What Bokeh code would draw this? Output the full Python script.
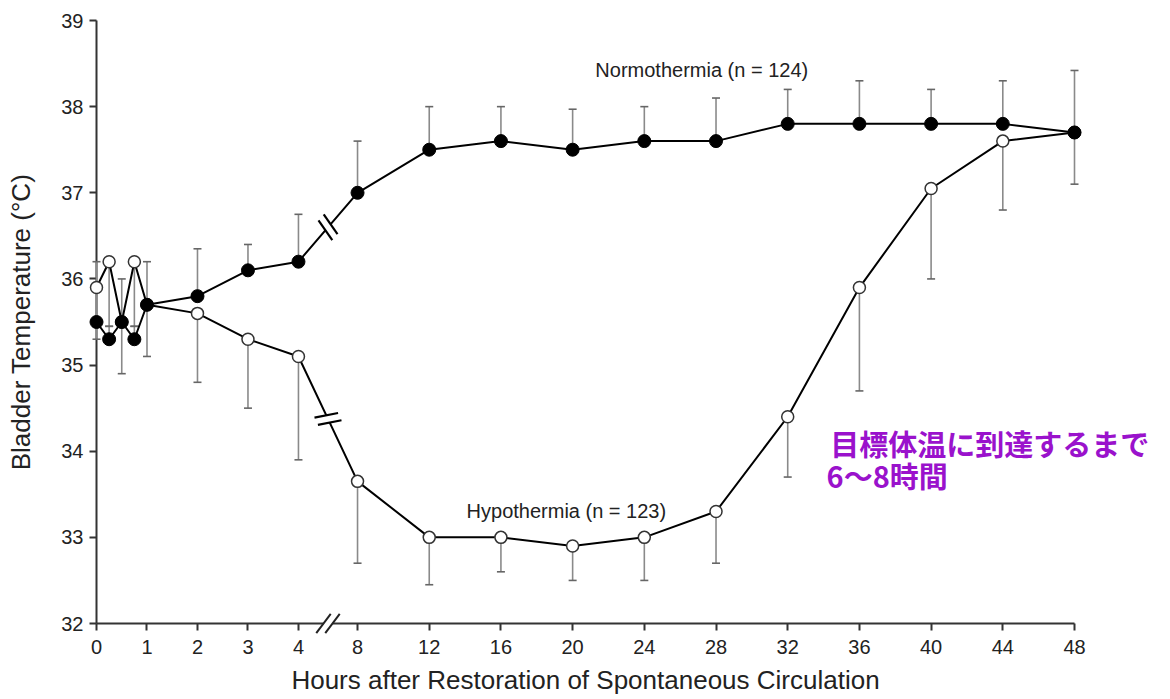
import math
from bokeh.plotting import figure
from bokeh.models import FixedTicker, Range1d, ColumnDataSource
from bokeh.embed import file_html
from bokeh.resources import INLINE
from bokeh.core.properties import value

# ---------------- data ----------------
hours = [0, 0.25, 0.5, 0.75, 1, 2, 3, 4, 8, 12, 16, 20, 24, 28, 32, 36, 40, 44, 48]
normo_mean = [35.5, 35.3, 35.5, 35.3, 35.7, 35.8, 36.1, 36.2, 37.0, 37.5, 37.6, 37.5,
              37.6, 37.6, 37.8, 37.8, 37.8, 37.8, 37.7]
normo_upper = [36.2, 35.45, 36.0, 35.45, 36.2, 36.35, 36.4, 36.75, 37.6, 38.0, 38.0, 37.97,
               38.0, 38.1, 38.2, 38.3, 38.2, 38.3, 38.42]
hypo_mean = [35.9, 36.2, 35.5, 36.2, 35.7, 35.6, 35.3, 35.1, 33.65, 33.0, 33.0, 32.9,
             33.0, 33.3, 34.4, 35.9, 37.05, 37.6, 37.7]
hypo_lower = [35.3, 35.45, 34.9, 35.45, 35.1, 34.8, 34.5, 33.9, 32.7, 32.45, 32.6, 32.5,
              32.5, 32.7, 33.7, 34.7, 36.0, 36.8, 37.1]
tick_hours = [0, 1, 2, 3, 4, 8, 12, 16, 20, 24, 28, 32, 36, 40, 44, 48]
y_ticks = [32, 33, 34, 35, 36, 37, 38, 39]

normo_label = "Normothermia (n = 124)"
hypo_label = "Hypothermia (n = 123)"
note_lines = ["目標体温に到達するまで", "6〜8時間"]

# ---------------- broken time scale ----------------
BREAK_START, BREAK_END = 4, 8
GAP = 1.17
LATE_SCALE = 0.355


def axis_pos(h):
    if h <= BREAK_START:
        return float(h)
    return round(BREAK_START + GAP + (h - BREAK_END) * LATE_SCALE, 4)


xs = [axis_pos(h) for h in hours]
tick_pos = [axis_pos(h) for h in tick_hours]
X_END = axis_pos(48)
Y0, Y1 = 32, 39

W, H = 1170, 699
BL, BR, BT, BB = 96, 96, 20, 76
FRAME_W = W - BL - BR
FRAME_H = H - BT - BB
SX = FRAME_W / X_END
SY = FRAME_H / (Y1 - Y0)

FONT = "Liberation Sans"
INK = "#222222"

p = figure(width=W, height=H, x_range=Range1d(0, X_END), y_range=Range1d(Y0, Y1),
           output_backend="svg", toolbar_location=None,
           min_border_left=BL, min_border_right=BR, min_border_top=BT, min_border_bottom=BB)
p.outline_line_color = None
p.grid.visible = False
p.background_fill_color = "white"

p.xaxis.ticker = FixedTicker(ticks=tick_pos)
p.xaxis.major_label_overrides = {pos: str(h) for pos, h in zip(tick_pos, tick_hours)}
p.yaxis.ticker = FixedTicker(ticks=y_ticks)

for ax in (p.xaxis, p.yaxis):
    ax.axis_line_color = "#333333"
    ax.axis_line_width = 2
    ax.major_tick_line_color = "#333333"
    ax.major_tick_line_width = 2
    ax.major_tick_out = 7
    ax.major_tick_in = 0
    ax.minor_tick_out = 0
    ax.minor_tick_in = 0
    ax.major_label_text_font = FONT
    ax.major_label_text_font_size = "20px"
    ax.major_label_text_color = INK
    ax.axis_label_text_font = FONT
    ax.axis_label_text_font_style = "normal"
    ax.axis_label_text_color = INK

p.xaxis.major_label_standoff = 9
p.yaxis.major_label_standoff = 6
p.xaxis.axis_label = "Hours after Restoration of Spontaneous Circulation"
p.xaxis.axis_label_text_font_size = "26px"
p.xaxis.axis_label_standoff = 8
p.yaxis.axis_label = "Bladder Temperature (°C)"
p.yaxis.axis_label_text_font_size = "26px"
p.yaxis.axis_label_standoff = 22

# ---------------- error bars ----------------
BAR = "#8a8a8a"
src = ColumnDataSource(dict(x=xs, nm=normo_mean, nu=normo_upper, hm=hypo_mean, hl=hypo_lower))
p.segment(x0="x", y0="nm", x1="x", y1="nu", source=src, line_color=BAR, line_width=1.6,
          level="overlay")
p.segment(x0="x", y0="hm", x1="x", y1="hl", source=src, line_color=BAR, line_width=1.6,
          level="overlay")
p.scatter(x="x", y="nu", source=src, marker="dash", size=8, line_color="#666666",
          line_width=1.6, level="overlay")
p.scatter(x="x", y="hl", source=src, marker="dash", size=8, line_color="#666666",
          line_width=1.6, level="overlay")

# ---------------- lines and markers ----------------
p.line(x="x", y="hm", source=src, line_color="black", line_width=2, level="overlay")
p.line(x="x", y="nm", source=src, line_color="black", line_width=2, level="overlay")
p.scatter(x="x", y="hm", source=src, marker="circle", size=12, fill_color="white",
          line_color="#333333", line_width=1.5, level="overlay")
p.scatter(x="x", y="nm", source=src, marker="circle", size=13, fill_color="black",
          line_color="black", level="overlay")

# ---------------- break marks on the lines ----------------
i4 = hours.index(BREAK_START)
i8 = hours.index(BREAK_END)
for ys in (normo_mean, hypo_mean):
    xm = (xs[i4] + xs[i8]) / 2
    ym = (ys[i4] + ys[i8]) / 2
    dxp = (xs[i8] - xs[i4]) * SX
    dyp = (ys[i8] - ys[i4]) * SY
    ang = math.atan2(dyp, dxp)
    L = math.hypot(dxp, dyp)
    ux, uy = dxp / L, dyp / L
    off = 4
    p.scatter(x=[xm], y=[ym], marker="dash", size=8, line_color="white", line_width=6,
              angle=ang, level="overlay")
    mark_x = [xm - off * ux / SX, xm + off * ux / SX]
    mark_y = [ym - off * uy / SY, ym + off * uy / SY]
    p.scatter(x=mark_x, y=mark_y, marker="dash", size=24, line_color="black", line_width=2.2,
              angle=ang + math.pi / 2 - 0.25, level="overlay")

# ---------------- break mark on the x axis ----------------
xb = (axis_pos(BREAK_START) + axis_pos(BREAK_END)) / 2
p.scatter(x=[xb], y=[Y0], marker="dash", size=9, line_color="white", line_width=5,
          level="overlay")
p.scatter(x=[xb - 4.5 / SX, xb + 4.5 / SX], y=[Y0, Y0], marker="dash", size=24,
          line_color="#222222", line_width=2, angle=math.radians(53), level="overlay")

# ---------------- annotations ----------------
p.text(x=[9.88, 7.33], y=[38.43, 33.31], text=[normo_label, hypo_label],
       text_font=value(FONT), text_font_size=value("20px"), text_color=INK,
       text_baseline="middle", text_align="left", level="overlay")
PURPLE = "#9a12cc"
p.text(x=[14.53, 14.46], y=[34.09, 33.72], text=note_lines,
       text_font=value("Noto Sans CJK JP"), text_font_size=value("29px"),
       text_font_style="bold", text_color=PURPLE,
       text_baseline="middle", text_align="left", level="overlay")

open("out.html", "w").write(file_html(p, INLINE))
